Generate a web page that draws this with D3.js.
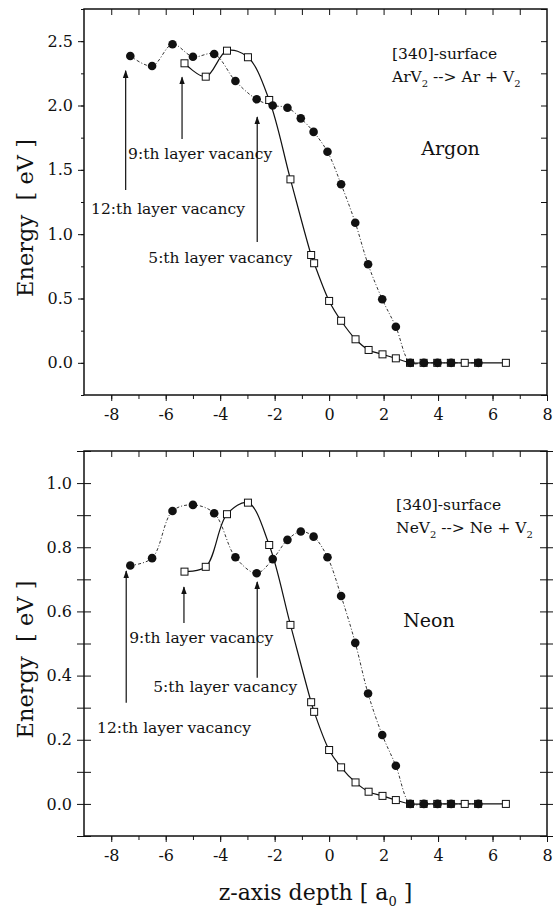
<!DOCTYPE html>
<html>
<head>
<meta charset="utf-8">
<script src="https://cdn.jsdelivr.net/npm/d3@7"></script>
<style>
  body { margin: 0; background: #fff; }
  svg { display: block; }
  text { font-family: "DejaVu Serif", "Liberation Serif", serif; fill: #111; }
</style>
</head>
<body>
<script>

// depth positions of the two point sets
var circleZ = [-7.3, -6.5, -5.75, -5.0, -4.22, -3.44, -2.66, -2.07, -1.53, -1.04, -0.57, -0.06,
               0.44, 0.96, 1.43, 1.95, 2.45, 2.98, 3.48, 3.98, 4.48, 5.48];
var squareZ = [-5.31, -4.53, -3.75, -2.98, -2.2, -1.42, -0.66, -0.55, 0, 0.44, 0.97, 1.45,
               1.96, 2.45, 2.97, 3.47, 3.97, 4.47, 4.98, 5.47, 6.49];

// Argon energies [eV]
var argonCircles = [2.385, 2.307, 2.476, 2.379, 2.40, 2.19, 2.048, 2.0, 1.983, 1.90, 1.795, 1.64,
                    1.388, 1.089, 0.766, 0.494, 0.28, 0, 0, 0, 0, 0];
var argonSquares = [2.328, 2.224, 2.426, 2.375, 2.043, 1.426, 0.838, 0.774, 0.481, 0.327, 0.183, 0.10,
                    0.066, 0.035, 0, 0, 0, 0, 0, 0, 0];

// Neon energies [eV]
var neonCircles = [0.743, 0.766, 0.913, 0.932, 0.906, 0.769, 0.719, 0.763, 0.823, 0.849, 0.833, 0.769,
                   0.648, 0.502, 0.344, 0.215, 0.119, 0, 0, 0, 0, 0];
var neonSquares = [0.724, 0.739, 0.903, 0.939, 0.807, 0.558, 0.317, 0.287, 0.168, 0.114, 0.067, 0.038,
                   0.025, 0.012, 0, 0, 0, 0, 0, 0, 0];

// tick labels
var xLabels = [-8, -6, -4, -2, 0, 2, 4, 6, 8];
var argonYLabels = [0.0, 0.5, 1.0, 1.5, 2.0, 2.5];
var neonYLabels = [0.0, 0.2, 0.4, 0.6, 0.8, 1.0];

var W = 553, H = 911;
var left = 84, right = 547;
var serif = '"DejaVu Serif", "Liberation Serif", serif';

var svg = d3.select("body").append("svg")
  .attr("width", W)
  .attr("height", H);

svg.append("rect").attr("width", W).attr("height", H).attr("fill", "#fff");

// arrow head
svg.append("defs").append("marker")
  .attr("id", "head")
  .attr("viewBox", "0 0 10 10")
  .attr("refX", 9).attr("refY", 5)
  .attr("markerWidth", 8).attr("markerHeight", 8)
  .attr("markerUnits", "userSpaceOnUse")
  .attr("orient", "auto")
  .append("path")
  .attr("d", "M0,1.5 L10,5 L0,8.5 Z")
  .attr("fill", "#111");

var x = d3.scaleLinear().domain([-9, 8]).range([left, right]);

function d3range(a, b, step) {
  // tick values, rounded to avoid float noise
  return d3.range(a, b + step / 2, step).map(function(v){ return Math.round(v * 1000) / 1000; });
}

function panel(opt) {
  var y = d3.scaleLinear().domain(opt.yDomain).range([opt.bottom, opt.top]);
  var g = svg.append("g");

  // top axis, inward ticks
  g.append("g")
    .attr("transform", "translate(0," + opt.top + ")")
    .call(d3.axisTop(x).tickValues(d3range(-8, 7, 1)).tickSizeInner(-6).tickSizeOuter(0).tickFormat(""));

  // bottom axis
  g.append("g")
    .attr("transform", "translate(0," + opt.bottom + ")")
    .call(d3.axisBottom(x).tickValues(d3range(-8, 7, 1)).tickSize(4).tickFormat(""));
  g.append("g")
    .attr("class", "lab")
    .attr("transform", "translate(0," + opt.bottom + ")")
    .call(d3.axisBottom(x).tickValues(xLabels).tickSize(6).tickPadding(8).tickFormat(function(d){ return String(d); }));

  // left + right axes
  if (opt.cross) {
    g.append("g").attr("transform", "translate(" + left + ",0)")
      .call(d3.axisLeft(y).tickValues(opt.yMinor).tickSize(7).tickFormat(""));
    g.append("g").attr("transform", "translate(" + left + ",0)")
      .call(d3.axisRight(y).tickValues(opt.yMinor).tickSize(7).tickFormat(""));
    g.append("g").attr("transform", "translate(" + right + ",0)")
      .call(d3.axisLeft(y).tickValues(opt.yMinor).tickSize(7).tickFormat(""));
    g.append("g").attr("transform", "translate(" + right + ",0)")
      .call(d3.axisRight(y).tickValues(opt.yMinor).tickSize(7).tickFormat(""));
    g.append("g").attr("class", "lab").attr("transform", "translate(" + left + ",0)")
      .call(d3.axisLeft(y).tickValues(opt.yLabels).tickSize(0).tickPadding(12).tickFormat(d3.format(".1f")));
  } else {
    g.append("g").attr("transform", "translate(" + left + ",0)")
      .call(d3.axisLeft(y).tickValues(opt.yMinor).tickSize(3).tickFormat(""));
    g.append("g").attr("class", "lab").attr("transform", "translate(" + left + ",0)")
      .call(d3.axisLeft(y).tickValues(opt.yLabels).tickSize(6).tickPadding(5).tickFormat(d3.format(".1f")));
    g.append("g").attr("transform", "translate(" + right + ",0)")
      .call(d3.axisRight(y).tickValues(opt.yMinor).tickSizeInner(-6).tickSizeOuter(0).tickFormat(""));
  }

  g.selectAll(".domain").remove();
  g.selectAll(".tick line").attr("stroke", "#111").attr("stroke-width", 1);
  g.selectAll(".lab text").attr("font-size", 16).attr("fill", "#111");

  // frame
  g.append("rect")
    .attr("x", left).attr("y", opt.top)
    .attr("width", right - left).attr("height", opt.bottom - opt.top)
    .attr("fill", "none").attr("stroke", "#111").attr("stroke-width", 1.5);

  var circles = circleZ.map(function(z, i){ return [z, opt.circles[i]]; });
  var squares = squareZ.map(function(z, i){ return [z, opt.squares[i]]; });

  var line = d3.line()
    .x(function(d){ return x(d[0]); })
    .y(function(d){ return y(d[1]); })
    .curve(d3.curveCatmullRom.alpha(0.5));

  g.append("path").datum(circles)
    .attr("d", line).attr("fill", "none")
    .attr("stroke", "#333").attr("stroke-width", 1)
    .attr("stroke-dasharray", "3,2,1,2");

  g.append("path").datum(squares)
    .attr("d", line).attr("fill", "none")
    .attr("stroke", "#111").attr("stroke-width", 1.2);

  g.selectAll(".sq").data(squares).enter().append("rect")
    .attr("x", function(d){ return x(d[0]) - 3.5; })
    .attr("y", function(d){ return y(d[1]) - 3.5; })
    .attr("width", 7).attr("height", 7)
    .attr("fill", "#fff").attr("stroke", "#111").attr("stroke-width", 1);

  g.selectAll(".ci").data(circles).enter().append("circle")
    .attr("cx", function(d){ return x(d[0]); })
    .attr("cy", function(d){ return y(d[1]); })
    .attr("r", 4.3)
    .attr("fill", "#111");

  // arrows
  opt.arrows.forEach(function(a){
    g.append("line")
      .attr("x1", x(a.z)).attr("x2", x(a.z))
      .attr("y1", y(a.from)).attr("y2", y(a.to))
      .attr("stroke", "#111").attr("stroke-width", 1.2)
      .attr("marker-end", "url(#head)");
    g.append("text")
      .attr("x", x(a.tx)).attr("y", y(a.ty))
      .attr("font-size", 15.5)
      .text(a.label);
  });

  // notes
  g.append("text").attr("x", x(opt.noteZ)).attr("y", y(opt.noteE[0]))
    .attr("font-size", 15.5).text("[340]-surface");

  var r = g.append("text").attr("x", x(opt.noteZ)).attr("y", y(opt.noteE[1]))
    .attr("font-size", 15.5);
  r.append("tspan").text(opt.gas + "V");
  r.append("tspan").attr("font-size", 10).attr("dy", 5).text("2");
  r.append("tspan").attr("dy", -5).text(" --> " + opt.gas + " + V");
  r.append("tspan").attr("font-size", 10).attr("dy", 5).text("2");

  g.append("text").attr("x", x(opt.nameZ)).attr("y", y(opt.nameE))
    .attr("font-size", 19).text(opt.name);

  // y title
  g.append("text")
    .attr("transform", "translate(33," + ((opt.top + opt.bottom) / 2 + 16) + ") rotate(-90)")
    .attr("text-anchor", "middle")
    .attr("font-size", 22.5)
    .text("Energy\u00a0\u00a0[ eV ]");
}

panel({
  top: 9, bottom: 395, yDomain: [-0.25, 2.75],
  yLabels: argonYLabels, yMinor: d3range(-0.25, 2.75, 0.25),
  circles: argonCircles, squares: argonSquares, cross: false,
  gas: "Ar", name: "Argon", nameZ: 3.38, nameE: 1.615,
  noteZ: 2.31, noteE: [2.361, 2.183],
  arrows: [
    {z: -7.47, from: 1.343, to: 2.27, label: "12:th layer vacancy", tx: -8.74, ty: 1.16},
    {z: -5.4, from: 1.74, to: 2.22, label: "9:th layer vacancy", tx: -7.38, ty: 1.583},
    {z: -2.64, from: 0.94, to: 1.91, label: "5:th layer vacancy", tx: -6.64, ty: 0.776}
  ]
});

panel({
  top: 451, bottom: 836, yDomain: [-0.1, 1.1],
  yLabels: neonYLabels, yMinor: d3range(-0.1, 1.1, 0.1),
  circles: neonCircles, squares: neonSquares, cross: true,
  gas: "Ne", name: "Neon", nameZ: 2.72, nameE: 0.551,
  noteZ: 2.46, noteE: [0.916, 0.845],
  arrows: [
    {z: -7.45, from: 0.315, to: 0.726, label: "12:th layer vacancy", tx: -8.52, ty: 0.221},
    {z: -5.33, from: 0.564, to: 0.676, label: "9:th layer vacancy", tx: -7.34, ty: 0.502},
    {z: -2.64, from: 0.393, to: 0.692, label: "5:th layer vacancy", tx: -6.46, ty: 0.349}
  ]
});

// x title
var xt = svg.append("text")
  .attr("x", (left + right) / 2).attr("y", 900)
  .attr("text-anchor", "middle")
  .attr("font-size", 22);
xt.append("tspan").text("z-axis depth [ a");
xt.append("tspan").attr("font-size", 13).attr("dy", 6).text("0");
xt.append("tspan").attr("dy", -6).text(" ]");

// make sure every label uses the serif face
svg.selectAll("text").style("font-family", serif);

</script>
</body>
</html>
